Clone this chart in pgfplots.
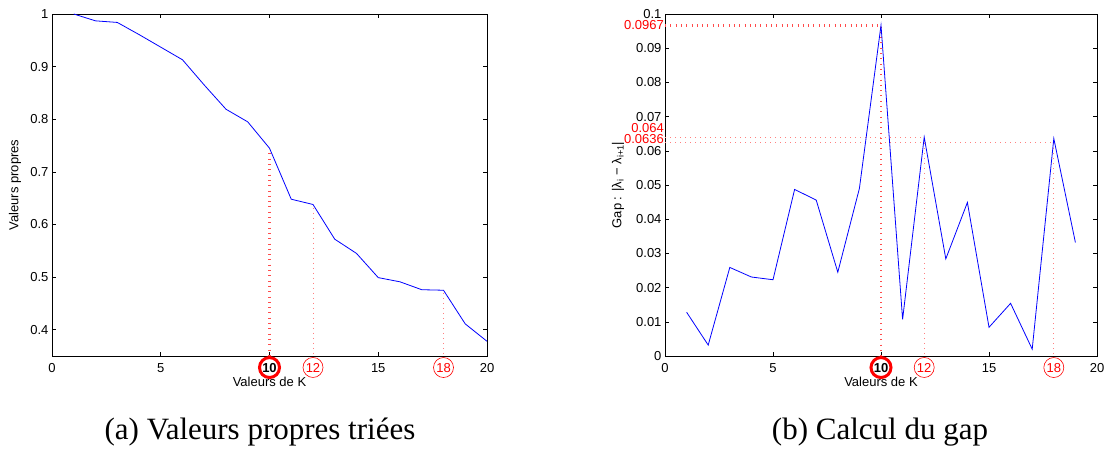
\documentclass[border=0pt]{standalone}
\usepackage{fontspec}
\setmainfont{Liberation Sans}
\newfontfamily\capfont{Liberation Serif}
\usepackage{pgfplots}
\pgfplotsset{compat=1.18}

\newcommand{\thickcirc}[1]{\tikz[baseline=(n.base)]\node[circle,draw=red,line width=3pt,inner sep=0pt,minimum size=20pt,text=black](n){\textbf{#1}};}
\newcommand{\thincirc}[1]{\tikz[baseline=(n.base)]\node[circle,draw=red,line width=0.6pt,inner sep=0pt,minimum size=20pt,text=red](n){#1};}

\pgfplotsset{
  mystyle/.style={
    scale only axis,
    clip=false,
    axis line style={line width=1pt},
    tick align=inside,
    major tick length=4pt,
    tick style={black, line width=0.6pt},
    tick label style={font=\fontsize{13}{13}\selectfont},
    label style={font=\fontsize{13}{13}\selectfont},
    /pgf/number format/assume math mode=true,
    xmin=0, xmax=20,
    xtick={0,5,10,15,20},
    xticklabels={0,5,\thickcirc{10},15,20},
    extra x ticks={12,18},
    extra x tick labels={\thincirc{12},\thincirc{18}},
    extra x tick style={major tick length=0pt},
    xticklabel style={anchor=base, yshift=-16pt},
    xlabel={Valeurs de K},
  },
  thickred/.style={color=red!70, line width=2.6pt, dash pattern=on 1pt off 4.3pt},
  thinred/.style={color=red!50, line width=1pt, dash pattern=on 1pt off 4pt},
}

\begin{document}
\begin{tikzpicture}
\useasboundingbox (0,0) rectangle (1106pt,-448pt);

\begin{axis}[mystyle,
  at={(52pt,-356pt)}, anchor=south west,
  width=435pt, height=342pt,
  ymin=0.35, ymax=1,
  ytick={0.4,0.5,0.6,0.7,0.8,0.9,1},
  yticklabels={0.4,0.5,0.6,0.7,0.8,0.9,1},
  ylabel={Valeurs propres},
  ylabel style={at={(axis description cs:-0.085,0.5)}, anchor=center},
  xlabel style={at={(axis description cs:0.5,-0.077)}, anchor=center},
]
\addplot[thickred] coordinates {(10,0.735) (10,0.35)};
\addplot[thinred] coordinates {(12,0.632) (12,0.35)};
\addplot[thinred] coordinates {(18,0.470) (18,0.35)};
\addplot[blue, line width=0.8pt] coordinates {
(1,1.000) (2,0.987) (3,0.984) (4,0.961) (5,0.937) (6,0.913) (7,0.865)
(8,0.819) (9,0.795) (10,0.745) (11,0.648) (12,0.638) (13,0.572)
(14,0.545) (15,0.499) (16,0.491) (17,0.476) (18,0.475) (19,0.411) (20,0.378)};
\end{axis}

\begin{axis}[mystyle,
  at={(665pt,-356pt)}, anchor=south west,
  width=432pt, height=342pt,
  ymin=0, ymax=0.1,
  ytick={0,0.01,0.02,0.03,0.04,0.05,0.06,0.07,0.08,0.09,0.1},
  yticklabels={0,0.01,0.02,0.03,0.04,0.05,0.06,0.07,0.08,0.09,0.1},
  ylabel={Gap : |λ\textsubscript{i} − λ\textsubscript{i+1}|},
  ylabel style={at={(axis description cs:-0.109,0.5)}, anchor=center},
  xlabel style={at={(axis description cs:0.5,-0.077)}, anchor=center},
]
\addplot[thickred] coordinates {(0,0.0967) (10,0.0967) (10,0)};
\addplot[thinred] coordinates {(0,0.064) (12,0.064) (12,0)};
\addplot[thinred] coordinates {(0,0.0625) (18,0.0625) (18,0)};
\addplot[blue, line width=0.8pt] coordinates {
(1,0.0128) (2,0.0032) (3,0.0259) (4,0.0231) (5,0.0223) (6,0.0487)
(7,0.0456) (8,0.0245) (9,0.0490) (10,0.0967) (11,0.0107) (12,0.0640)
(13,0.0284) (14,0.0449) (15,0.0084) (16,0.0154) (17,0.0020) (18,0.0636) (19,0.0332)};
\node[anchor=east, text=red, inner sep=1pt, font=\fontsize{13}{13}\selectfont] at (axis cs:0,0.0967) {0.0967};
\node[anchor=east, text=red, inner sep=1pt, yshift=9pt, font=\fontsize{13}{13}\selectfont] at (axis cs:0,0.064) {0.064};
\node[anchor=east, text=red, inner sep=1pt, yshift=-1pt, font=\fontsize{13}{13}\selectfont] at (axis cs:0,0.0636) {0.0636};
\end{axis}

\node[anchor=base, font=\capfont\fontsize{31}{31}\selectfont] at (260pt,-439pt) {(a) Valeurs propres triées};
\node[anchor=base, font=\capfont\fontsize{31}{31}\selectfont] at (880pt,-439pt) {(b) Calcul du gap};
\end{tikzpicture}
\end{document}
